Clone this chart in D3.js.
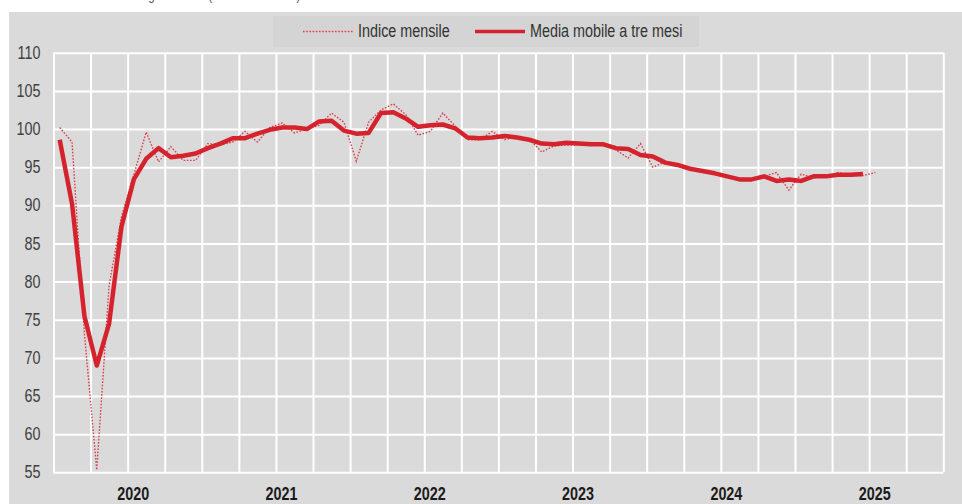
<!DOCTYPE html>
<html>
<head>
<meta charset="utf-8">
<script src="https://cdn.jsdelivr.net/npm/d3@7"></script>
<style>
  html, body { margin: 0; padding: 0; background: #fff; }
  svg { display: block; }
  text { font-family: "Liberation Sans Narrow", "Arial Narrow", "Liberation Sans", Arial, sans-serif; }
</style>
</head>
<body>
<svg id="chart" width="962" height="504"></svg>
<script>
// ---- Data (monthly, Jan 2020 onwards) ----
const years = ["2020", "2021", "2022", "2023", "2024", "2025"];
const yTicks = [55, 60, 65, 70, 75, 80, 85, 90, 95, 100, 105, 110];
const seriesNames = ["Indice mensile", "Media mobile a tre mesi"];
const subtitle = "Dati destagionalizzati (indice 2021=100)";

// Indice mensile: Jan 2020 – Jul 2025
const indiceMensile = [
  100.2, 98.3, 73.2, 55.3, 79.5, 88.5, 94.0, 99.6, 95.7, 97.7, 95.9, 95.9,
  98.1, 97.9, 98.3, 99.7, 98.3, 100.2, 100.8, 99.5, 100.0, 100.5, 102.1, 100.9,
  95.8, 100.9, 102.5, 103.3, 101.9, 99.2, 99.7, 102.1, 100.4, 98.6, 98.6, 99.7,
  98.6, 99.0, 98.7, 97.0, 97.8, 97.9, 97.9, 98.0, 97.9, 97.3, 96.2, 98.1,
  95.0, 95.7, 95.2, 94.7, 94.4, 94.2, 93.7, 93.3, 93.3, 93.8, 94.3, 92.0,
  94.1, 93.6, 93.8, 94.3, 93.9, 93.9, 94.3
];

// Media mobile a tre mesi (centrata): Jan 2020 – Jun 2025
const mediaMobile = [
  98.6, 90.2, 75.5, 69.0, 74.5, 87.2, 93.4, 96.1, 97.5, 96.3, 96.5, 96.8,
  97.5, 98.1, 98.8, 98.8, 99.4, 99.9, 100.2, 100.2, 100.0, 101.0, 101.1, 99.8,
  99.4, 99.5, 102.1, 102.2, 101.4, 100.3, 100.5, 100.6, 100.1, 98.9, 98.8, 98.9,
  99.1, 98.9, 98.6, 98.1, 98.0, 98.2, 98.1, 98.0, 98.0, 97.5, 97.4, 96.6,
  96.4, 95.6, 95.3, 94.8, 94.5, 94.2, 93.8, 93.4, 93.4, 93.8, 93.2, 93.4,
  93.2, 93.8, 93.8, 94.0, 94.0, 94.1
];

// ---- Layout ----
const W = 962, H = 504;
const plot = { left: 53.5, right: 943.3, top: 52.8, bottom: 472.3 };
const totalMonths = years.length * 12;
const squeeze = 0.82; // emulate a narrow typeface

function condense(sel) {
  sel.each(function () {
    const len = this.getComputedTextLength();
    d3.select(this)
      .attr("textLength", len * squeeze)
      .attr("lengthAdjust", "spacingAndGlyphs");
  });
}

const svg = d3.select("#chart");

// panel background
svg.append("rect")
  .attr("x", 9).attr("y", 12).attr("width", W - 9).attr("height", H - 12)
  .attr("fill", "#dadada");

// subtitle, cut off at the very top as in the original
const probe = svg.append("text").attr("font-size", 14).text("Dati destagionalizzati ");
const prefixW = probe.node().getComputedTextLength() * squeeze;
probe.remove();
svg.append("text")
  .attr("x", 205 - prefixW).attr("y", -0.5)
  .attr("font-size", 14).attr("fill", "#555")
  .text(subtitle)
  .call(condense);

const x = d3.scaleLinear().domain([0, totalMonths]).range([plot.left, plot.right]);
const y = d3.scaleLinear().domain([55, 110]).range([plot.bottom, plot.top]);

// vertical grid (quarterly)
const quarterTicks = d3.range(0, totalMonths + 1, 3);
const gx = svg.append("g")
  .attr("transform", `translate(0,${plot.bottom})`)
  .call(d3.axisBottom(x).tickValues(quarterTicks).tickSize(-(plot.bottom - plot.top)).tickFormat(""));
gx.select(".domain").remove();
gx.selectAll("line").attr("stroke", "#ffffff").attr("stroke-width", 2);

// horizontal grid + y labels
const gy = svg.append("g")
  .attr("transform", `translate(${plot.left},0)`)
  .call(d3.axisLeft(y).tickValues(yTicks).tickSize(-(plot.right - plot.left)).tickPadding(13));
gy.select(".domain").remove();
gy.selectAll("line").attr("stroke", "#ffffff").attr("stroke-width", 2);
gy.selectAll("text")
  .attr("font-size", 17.5)
  .attr("fill", "#404040")
  .style("font-family", '"Liberation Sans Narrow", "Arial Narrow", "Liberation Sans", Arial, sans-serif')
  .call(condense);

// year labels
const yearCenters = years.map((yr, i) => i * 12 + 6);
const gyear = svg.append("g")
  .attr("transform", `translate(5,${plot.bottom})`)
  .call(d3.axisBottom(x).tickValues(yearCenters).tickSize(0).tickPadding(15)
    .tickFormat((d, i) => years[i]));
gyear.select(".domain").remove();
gyear.selectAll("text")
  .attr("font-size", 17.5)
  .attr("font-weight", "bold")
  .attr("fill", "#1a1a1a")
  .style("font-family", '"Liberation Sans Narrow", "Arial Narrow", "Liberation Sans", Arial, sans-serif')
  .call(condense);

// lines
const line = d3.line()
  .x((d, i) => x(i + 0.5))
  .y(d => y(d));

svg.append("path")
  .datum(indiceMensile)
  .attr("d", line)
  .attr("fill", "none")
  .attr("stroke", "#d9404c")
  .attr("stroke-width", 1.4)
  .attr("stroke-dasharray", "1.6,1.6");

svg.append("path")
  .datum(mediaMobile)
  .attr("d", line)
  .attr("fill", "none")
  .attr("stroke", "#d5232e")
  .attr("stroke-width", 4.5)
  .attr("stroke-linejoin", "round");

// legend
const lg = svg.append("g");
lg.append("rect")
  .attr("x", 273).attr("y", 16).attr("width", 426).attr("height", 31)
  .attr("fill", "#d4d4d4");
lg.append("line")
  .attr("x1", 303).attr("x2", 353).attr("y1", 31.5).attr("y2", 31.5)
  .attr("stroke", "#d9404c").attr("stroke-width", 1.4).attr("stroke-dasharray", "1.6,1.6");
lg.append("text")
  .attr("x", 358).attr("y", 37.3)
  .attr("font-size", 17.5).attr("fill", "#333")
  .text(seriesNames[0])
  .call(condense);
lg.append("line")
  .attr("x1", 475).attr("x2", 525).attr("y1", 31.5).attr("y2", 31.5)
  .attr("stroke", "#d5232e").attr("stroke-width", 3.5);
lg.append("text")
  .attr("x", 530).attr("y", 37.3)
  .attr("font-size", 17.5).attr("fill", "#333")
  .text(seriesNames[1])
  .call(condense);
</script>
</body>
</html>
